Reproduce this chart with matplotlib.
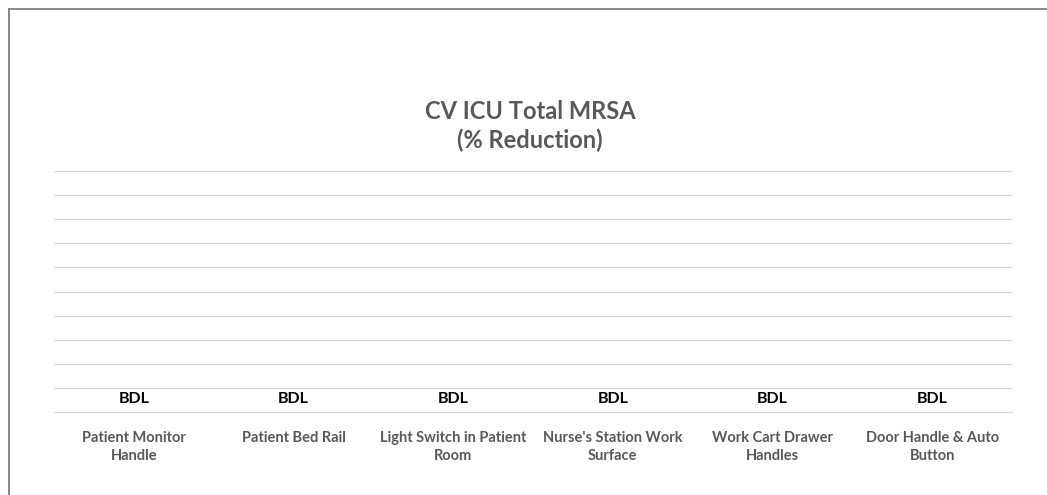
import numpy as np
import matplotlib.pyplot as plt
from matplotlib.lines import Line2D

plt.rcParams['font.family'] = ['Lato', 'DejaVu Sans']

# Datos
categorias = ["Patient Monitor\nHandle", "Patient Bed Rail", "Light Switch in Patient\nRoom",
              "Nurse's Station Work\nSurface", "Work Cart Drawer\nHandles", "Door Handle & Auto\nButton"]
reduccion = [0, 0, 0, 0, 0, 0]
etiquetas = ["BDL", "BDL", "BDL", "BDL", "BDL", "BDL"]

W, H = 1047, 495
fig = plt.figure(figsize=(W / 100, H / 100), dpi=100)
ax = fig.add_axes([54 / W, 1 - 412 / H, (1012 - 54) / W, (412 - 171) / H])

x = np.arange(len(categorias))
bars = ax.bar(x, reduccion, width=0.6, color='#4472c4')
ax.bar_label(bars, labels=etiquetas, padding=4, fontsize=11.5, fontweight='bold', color='black')

ax.set_xlim(-0.5, len(categorias) - 0.5)
ax.set_ylim(0, 10)
ax.set_yticks(np.arange(0, 11, 1))
ax.yaxis.grid(True, color='#d9d9d9', linewidth=0.9)
ax.set_axisbelow(True)
ax.tick_params(axis='y', left=False, labelleft=False)
ax.tick_params(axis='x', bottom=False, pad=10)
ax.set_xticks(x)
ax.set_xticklabels(categorias, fontsize=10.5, fontweight='bold', color='#595959', linespacing=1.35)
for s in ['top', 'right', 'left']:
    ax.spines[s].set_visible(False)
ax.spines['bottom'].set_color('#d9d9d9')

fig.text(530 / W, 1 - 126 / H, "CV ICU Total MRSA\n(% Reduction)", ha='center', va='center',
         fontsize=17, fontweight='bold', color='#595959', linespacing=1.25)

# marco del grafico (recortado a la derecha y abajo)
fig.add_artist(Line2D([8.5 / W, 8.5 / W], [0, 1 - 8.5 / H], color='#808080', linewidth=1.3))
fig.add_artist(Line2D([8.5 / W, 1], [1 - 8.5 / H, 1 - 8.5 / H], color='#808080', linewidth=1.3))

plt.savefig('out.png', dpi=100)
